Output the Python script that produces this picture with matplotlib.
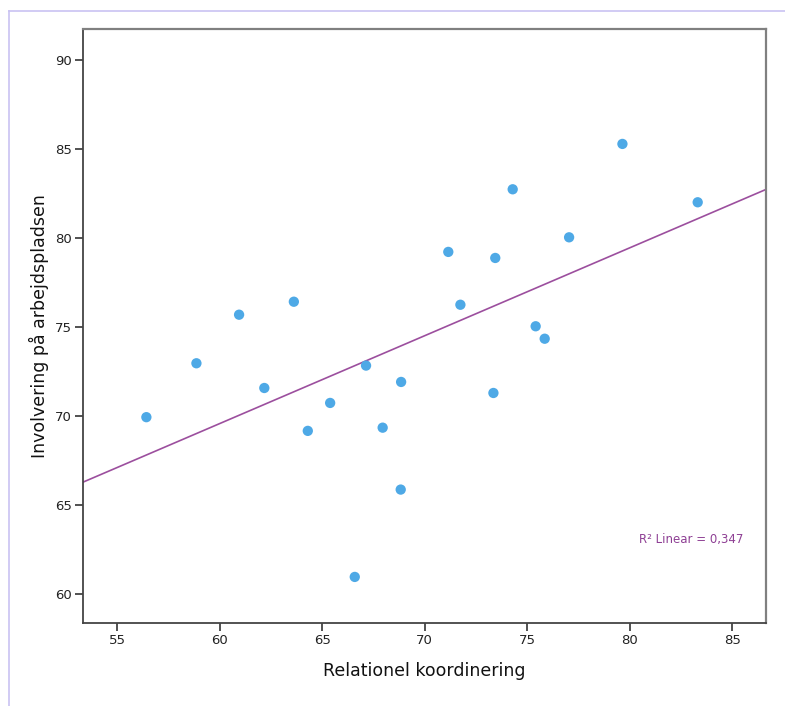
import numpy as np
import matplotlib.pyplot as plt
from matplotlib.lines import Line2D

# values
relationel = [56.43, 58.87, 60.95, 62.18, 63.62, 64.30, 65.39, 67.14, 66.59, 67.95, 68.85,
              68.83, 71.15, 71.74, 73.35, 73.44, 74.29, 75.41, 75.85, 77.04, 79.64, 83.31]
involvering = [69.92, 72.95, 75.68, 71.56, 76.41, 69.15, 70.72, 72.82, 60.94, 69.33, 71.90,
               65.85, 79.21, 76.24, 71.28, 78.87, 82.73, 75.03, 74.33, 80.03, 85.28, 82.00]
x_ticks = [55, 60, 65, 70, 75, 80, 85]
y_ticks = [60, 65, 70, 75, 80, 85, 90]
r2_label = "R\u00b2 Linear = 0,347"

fig = plt.figure(figsize=(7.85, 7.06), dpi=100)
ax = fig.add_axes([83 / 785, 1 - 623 / 706, 683 / 785, 594 / 706])

ax.scatter(relationel, involvering, s=55, color='#4ea9e6', edgecolors='none', zorder=3)

xlim = (53.34, 86.64)
ax.set_xlim(xlim)
ax.set_ylim(58.35, 91.74)

slope, intercept = np.polyfit(relationel, involvering, 1)
xs = np.array(xlim)
ax.plot(xs, slope * xs + intercept, color='#9c4f9e', lw=1.2, zorder=2)

ax.text(0.891, 0.14, r2_label, transform=ax.transAxes, ha='center', va='center',
        fontsize=8.5, color='#8e3f94')

ax.set_xticks(x_ticks)
ax.set_yticks(y_ticks)
ax.tick_params(direction='out', length=6, width=1.2, color='#333333', labelsize=9.5,
               labelcolor='#222222', pad=2)

for side in ['left', 'bottom']:
    ax.spines[side].set_color('#444444')
    ax.spines[side].set_linewidth(1.3)
for side in ['top', 'right']:
    ax.spines[side].set_color('#808080')
    ax.spines[side].set_linewidth(1.6)

ax.set_xlabel('Relationel koordinering', fontsize=12.5, color='#111111', labelpad=11)
ax.set_ylabel('Involvering på arbejdspladsen', fontsize=12.5, color='#111111', labelpad=4)

# lavender frame of the output window
fig.add_artist(Line2D([9 / 785, 1], [1 - 11 / 706, 1 - 11 / 706], color='#c9c2f2', lw=1.2))
fig.add_artist(Line2D([9 / 785, 9 / 785], [0, 1 - 11 / 706], color='#c9c2f2', lw=1.2))

fig.savefig('out.png', dpi=100)
